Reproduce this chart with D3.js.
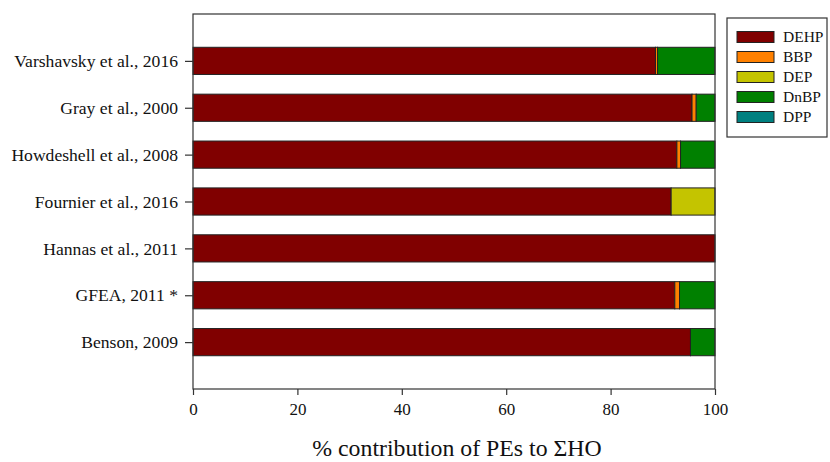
<!DOCTYPE html>
<html><head><meta charset="utf-8">
<script src="https://cdn.jsdelivr.net/npm/d3@7"></script>
<style>body{margin:0;background:#fff}</style>
</head><body>
<svg id="c" width="830" height="462"></svg>
<script>
const studies = ["Varshavsky et al., 2016","Gray et al., 2000","Howdeshell et al., 2008","Fournier et al., 2016","Hannas et al., 2011","GFEA, 2011 *","Benson, 2009"];
const seriesNames = ["DEHP","BBP","DEP","DnBP","DPP"];
const colors = ["#800000","#FF8000","#C4C400","#008000","#008080"];
const DEHP = [88.6, 95.6, 92.7, 91.6, 100, 92.3, 95.3];
const BBP  = [0.4, 0.8, 0.7, 0, 0, 0.9, 0];
const DEP  = [0, 0, 0, 8.4, 0, 0, 0];
const DnBP = [11.0, 3.6, 6.6, 0, 0, 6.8, 4.7];
const DPP  = [0, 0, 0, 0, 0, 0, 0];
const xTicks = [0,20,40,60,80,100];
const xTitle = "% contribution of PEs to ΣHO";

const svg = d3.select("#c");
const L=193, R=715, T=14, B=389;
const x = d3.scaleLinear().domain([0,100]).range([L,R]);
const y = d3.scaleLinear().domain([0,8]).range([T,B]);
const bh = (y(1)-y(0))*0.58;
const font = "'Liberation Serif','Times New Roman',serif";

const rows = studies.map((s,i)=>({study:s, DEHP:DEHP[i], BBP:BBP[i], DEP:DEP[i], DnBP:DnBP[i], DPP:DPP[i]}));
const stack = d3.stack().keys(seriesNames)(rows);

stack.forEach((layer,k)=>{
  svg.append("g").selectAll("rect").data(layer.filter(d=>d[1]-d[0]>0)).join("rect")
    .attr("x",d=>x(d[0])).attr("width",d=>x(d[1])-x(d[0]))
    .attr("y",d=>y(studies.indexOf(d.data.study)+1)-bh/2).attr("height",bh)
    .attr("fill",colors[k]).attr("stroke","#222").attr("stroke-width",1);
});

// frame
svg.append("rect").attr("x",L).attr("y",T).attr("width",R-L).attr("height",B-T)
  .attr("fill","none").attr("stroke","#333").attr("stroke-width",1.2);

// x axis
const xa = svg.append("g").attr("transform",`translate(0,${B})`)
  .call(d3.axisBottom(x).tickValues(xTicks).tickSize(6).tickPadding(8).tickFormat(d3.format("d")));
xa.select(".domain").remove();
xa.selectAll("line").attr("stroke","#333").attr("stroke-width",1.2);
xa.selectAll("text").attr("font-family",font).attr("font-size",17).attr("fill","#111");

// y axis
const ya = svg.append("g").attr("transform",`translate(${L},0)`)
  .call(d3.axisLeft(y).tickValues(d3.range(1,8)).tickSize(8).tickPadding(7).tickFormat(d=>studies[d-1]));
ya.select(".domain").remove();
ya.selectAll("line").attr("stroke","#333").attr("stroke-width",1.2);
ya.selectAll("text").attr("font-family",font).attr("font-size",17.6).attr("fill","#111");

svg.append("text").attr("x",457).attr("y",456).attr("text-anchor","middle")
  .attr("font-family",font).attr("font-size",23.8).attr("fill","#111").text(xTitle);

// legend
const lg = svg.append("g");
lg.append("rect").attr("x",727).attr("y",18).attr("width",100).attr("height",119)
  .attr("fill","#fff").attr("stroke","#333").attr("stroke-width",1.2);
seriesNames.forEach((n,i)=>{
  const cy = 37 + i*20;
  lg.append("rect").attr("x",737).attr("y",cy-5.5).attr("width",37).attr("height",11)
    .attr("fill",colors[i]).attr("stroke","#222").attr("stroke-width",1);
  lg.append("text").attr("x",783).attr("y",cy+5).attr("font-family",font).attr("font-size",15.5)
    .attr("fill","#111").text(n);
});
</script>
</body></html>
